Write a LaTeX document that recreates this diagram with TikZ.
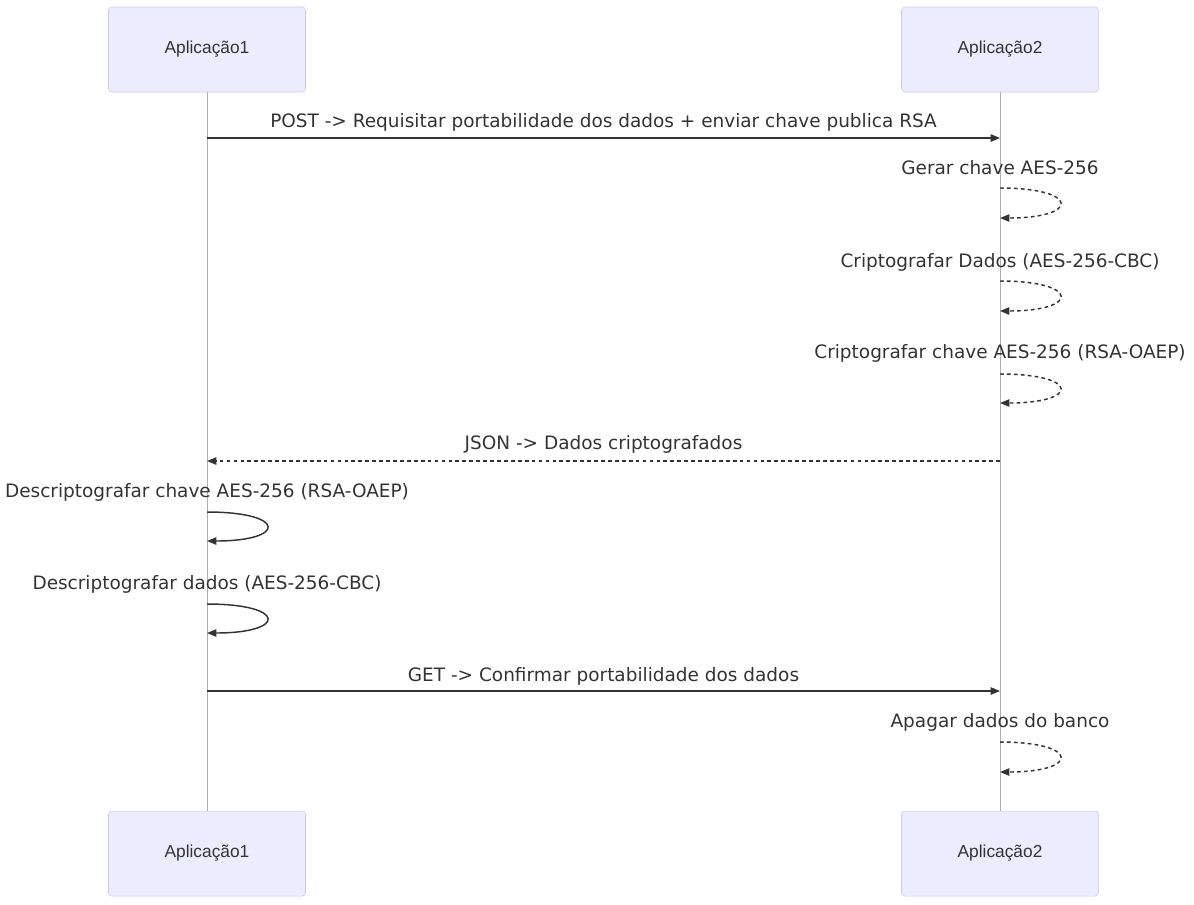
\documentclass[tikz,border=0pt]{standalone}
\usepackage{fontspec}
\setmainfont{DejaVu Sans}
\newfontfamily\actorfont{Liberation Sans}
\usepackage{xcolor}
\definecolor{actor-fill}{HTML}{ECECFF}
\definecolor{actor-line}{HTML}{C8C8F8}
\definecolor{msg-line}{HTML}{333333}
\definecolor{life-line}{HTML}{B0B0B0}
\usetikzlibrary{arrows.meta}
\tikzset{actor/.style = {draw=actor-line, fill=actor-fill, rounded corners=2.5pt, minimum width=147.75pt, minimum height=63.75pt, text=msg-line, font=\actorfont\fontsize{13}{15}\selectfont}}
\tikzset{label/.style = {text=msg-line, inner sep=0pt, font=\fontsize{13.85}{16}\selectfont}}
\tikzset{arr/.style = {line width=1.1pt, draw=msg-line, -{Triangle[length=7pt,width=5.5pt]}}}
\tikzset{darr/.style = {arr, dash pattern=on 2.8pt off 2.4pt}}
\tikzset{life/.style = {draw=life-line, line width=0.6pt}}

\begin{document}
\begin{tikzpicture}[x=0.75pt, y=-0.75pt]
\useasboundingbox (0,0) rectangle (1194,904);

\node[actor] (top1) at (207,49.5) {Aplicação1};
\node[actor] (top2) at (1000,49.5) {Aplicação2};
\node[actor] (bot1) at (207,853.5) {Aplicação1};
\node[actor] (bot2) at (1000,853.5) {Aplicação2};

\draw[life] (top1.south) -- (bot1.north);
\draw[life] (top2.south) -- (bot2.north);

% points on the lifelines
\coordinate (p1) at (207,138);
\coordinate (q1) at (1000,138);
\coordinate (q2) at (1000,188);
\coordinate (q3) at (1000,281);
\coordinate (q4) at (1000,374);
\coordinate (q5) at (1000,461);
\coordinate (p5) at (207,461);
\coordinate (p6) at (207,512);
\coordinate (p7) at (207,604);
\coordinate (p8) at (207,691);
\coordinate (q8) at (1000,691);
\coordinate (q9) at (1000,742);

\node[label] (m1) at (603.5,122) {POST -> Requisitar portabilidade dos dados + enviar chave publica RSA};
\node[label] (m2) at (1000,168) {Gerar chave AES-256};
\node[label] (m3) at (1000,262) {Criptografar Dados (AES-256-CBC)};
\node[label] (m4) at (1000,353) {Criptografar chave AES-256 (RSA-OAEP)};
\node[label] (m5) at (603.5,444) {JSON -> Dados criptografados};
\node[label] (m6) at (207,492) {Descriptografar chave AES-256 (RSA-OAEP)};
\node[label] (m7) at (207,584) {Descriptografar dados (AES-256-CBC)};
\node[label] (m8) at (603.5,676) {GET -> Confirmar portabilidade dos dados};
\node[label] (m9) at (1000,722) {Apagar dados do banco};

\draw[arr]  (p1) -- (q1);
\draw[darr] (q2) .. controls +(80,0) and +(80,0) .. ++(0,30);
\draw[darr] (q3) .. controls +(80,0) and +(80,0) .. ++(0,30);
\draw[darr] (q4) .. controls +(80,0) and +(80,0) .. ++(0,29);
\draw[darr] (q5) -- (p5);
\draw[arr]  (p6) .. controls +(80,0) and +(80,0) .. ++(0,29);
\draw[arr]  (p7) .. controls +(80,0) and +(80,0) .. ++(0,29);
\draw[arr]  (p8) -- (q8);
\draw[darr] (q9) .. controls +(80,0) and +(80,0) .. ++(0,30);

\end{tikzpicture}
\end{document}
